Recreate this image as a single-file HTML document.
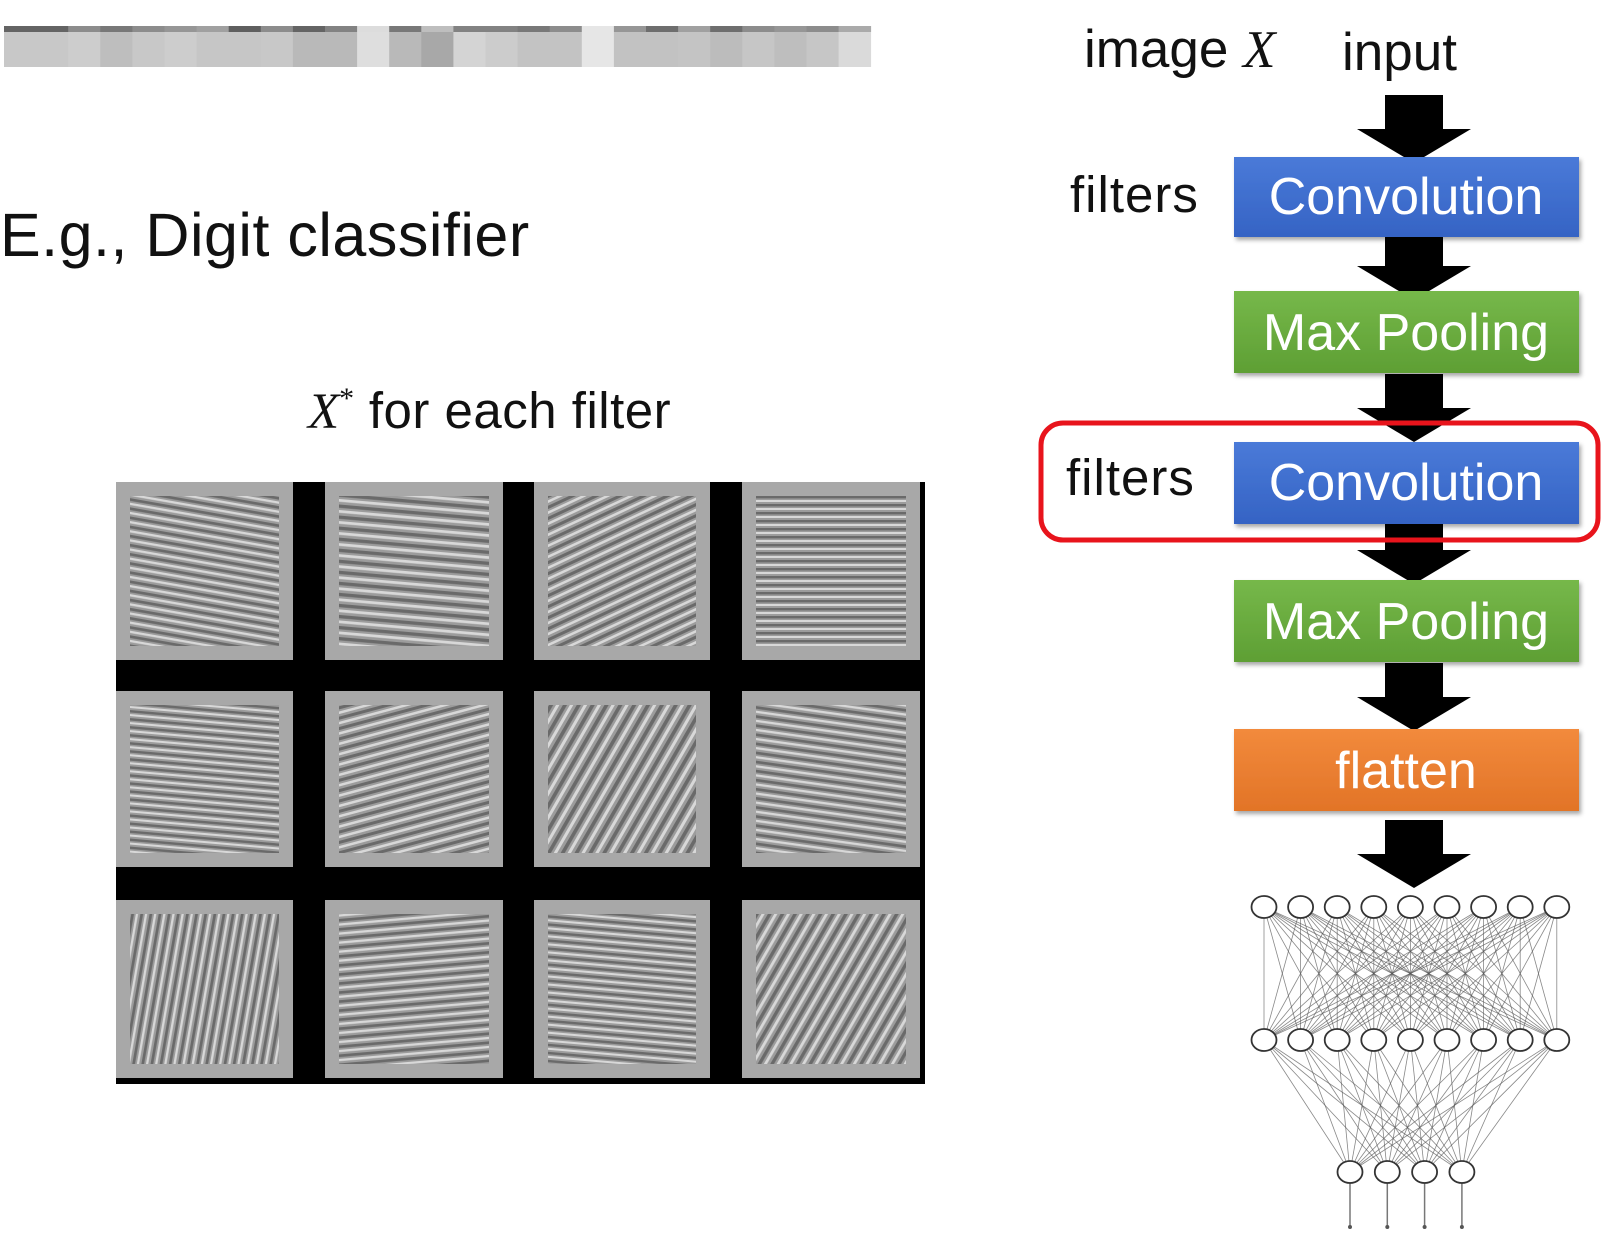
<!DOCTYPE html>
<html><head><meta charset="utf-8"><style>
html,body{margin:0;padding:0;background:#fff;width:1618px;height:1250px;overflow:hidden}
svg{display:block}
text{font-family:"Liberation Sans","DejaVu Sans",sans-serif}
</style></head><body>
<svg id="s" width="1618" height="1250" viewBox="0 0 1618 1250">
<defs>
<linearGradient id="gb" x1="0" y1="0" x2="0" y2="1"><stop offset="0" stop-color="#4a7ad8"/><stop offset="1" stop-color="#3563c4"/></linearGradient>
<linearGradient id="gg" x1="0" y1="0" x2="0" y2="1"><stop offset="0" stop-color="#76b84a"/><stop offset="1" stop-color="#5e9f34"/></linearGradient>
<linearGradient id="go" x1="0" y1="0" x2="0" y2="1"><stop offset="0" stop-color="#f28a3c"/><stop offset="1" stop-color="#e27427"/></linearGradient>
<filter id="sh"><feDropShadow dx="2" dy="3" stdDeviation="2" flood-opacity="0.35"/></filter>
</defs>
<g id="topbar"></g>
<text x="0" y="256" font-size="61" fill="#111" letter-spacing="0.5">E.g., Digit classifier</text>
<text x="308" y="428" font-size="51" fill="#111"><tspan font-family="Liberation Serif" font-style="italic">X</tspan><tspan font-size="30" dy="-20" font-family="Liberation Serif">*</tspan><tspan dy="20" letter-spacing="0.5"> for each filter</tspan></text>
<rect x="116" y="482" width="809" height="602" fill="#000"/>
<g id="cells"></g>
<text x="1084" y="67" font-size="53" fill="#111">image <tspan font-family="Liberation Serif" font-style="italic">X</tspan></text>
<text x="1342" y="70" font-size="53" fill="#111">input</text>
<g id="arrows"></g>
<text x="1070" y="212" font-size="51" fill="#111" letter-spacing="1">filters</text>
<rect x="1234" y="157" width="345" height="80" fill="url(#gb)" filter="url(#sh)"/>
<text x="1406" y="214" font-size="52" fill="#fff" text-anchor="middle">Convolution</text>
<rect x="1234" y="291" width="345" height="82" fill="url(#gg)" filter="url(#sh)"/>
<text x="1406" y="350" font-size="52" fill="#fff" text-anchor="middle">Max Pooling</text>
<rect x="1234" y="442" width="345" height="82" fill="url(#gb)" filter="url(#sh)"/>
<text x="1406" y="500" font-size="52" fill="#fff" text-anchor="middle">Convolution</text>
<text x="1066" y="495" font-size="51" fill="#111" letter-spacing="1">filters</text>
<rect x="1041" y="423" width="557" height="117" rx="22" fill="none" stroke="#e8141c" stroke-width="5"/>
<rect x="1234" y="580" width="345" height="82" fill="url(#gg)" filter="url(#sh)"/>
<text x="1406" y="639" font-size="52" fill="#fff" text-anchor="middle">Max Pooling</text>
<rect x="1234" y="729" width="345" height="82" fill="url(#go)" filter="url(#sh)"/>
<text x="1406" y="788" font-size="52" fill="#fff" text-anchor="middle">flatten</text>
<g id="net"></g>
</svg>
<script>
const NS="http://www.w3.org/2000/svg";
function mk(t,a,p){const e=document.createElementNS(NS,t);for(const k in a)e.setAttribute(k,a[k]);p.appendChild(e);return e;}
const stripGrays=[200,200,205,190,200,205,198,198,200,185,185,222,185,168,212,204,195,195,230,194,194,196,188,198,190,198,218];
const stripTop=[100,100,140,120,140,150,160,95,140,100,130,220,120,190,130,130,120,140,230,150,110,160,110,140,150,140,170];
const tb=document.getElementById('topbar');
stripGrays.forEach((g,i)=>{const x=4+i*32.1;
 const r=mk('rect',{x:x,y:32,width:32.5,height:35,fill:`rgb(${g},${g},${g})`},tb);
 
 
 const t=stripTop[i];mk('rect',{x:x,y:26,width:32.5,height:6,fill:`rgb(${t},${t},${t})`},tb);});
const colsX=[116,325,534,742],rowsY=[482,691,900],cw=[177,178,176,178],ch=[178,176,178];
const angles=[[10,5,-25,0],[5,-15,-60,8],[-80,-5,5,-60]];
const periods=[9,11,10,8, 8,10,12,9, 9,9,8,11];
const cg=document.getElementById('cells');
const defsEl=document.querySelector('defs');
let idx=0;
rowsY.forEach((y,r)=>colsX.forEach((x,c)=>{
 const id='p'+idx;const pp=periods[idx];
 const pat=mk('pattern',{id:id,width:pp,height:pp,patternUnits:'userSpaceOnUse',patternTransform:`rotate(${angles[r][c]})`},defsEl);
 mk('rect',{width:pp,height:pp,fill:'#9c9c9c'},pat);
 mk('rect',{width:pp,height:pp*0.3,fill:'#6a6a6a'},pat);
 mk('rect',{y:pp*0.5,width:pp,height:pp*0.25,fill:'#d8d8d8'},pat);
 const b=mk('rect',{x:x,y:y,width:cw[c],height:ch[r],fill:'#a8a8a8'},cg);
 
 
 mk('rect',{x:x+14,y:y+14,width:cw[c]-28,height:ch[r]-28,fill:`url(#${id})`},cg);
 idx++;}));
const arrowTops=[95,232,374,516,663,820];
const ag=document.getElementById('arrows');
arrowTops.forEach(t=>{const p=mk('path',{d:`M1385 ${t} H1443 V${t+34} H1471 L1414 ${t+68} L1357 ${t+34} H1385 Z`,fill:'#000'},ag);
 
 });
const net=document.getElementById('net');
const layerA=[],layerB=[],layerC=[];
for(let i=0;i<9;i++){layerA.push([1264+i*36.6,907]);layerB.push([1264+i*36.6,1040]);}
for(let i=0;i<4;i++)layerC.push([1350+i*37.3,1172]);
layerA.forEach(a=>layerB.forEach(b=>mk('line',{x1:a[0],y1:a[1],x2:b[0],y2:b[1],stroke:'#555','stroke-width':0.8,'stroke-opacity':0.7},net)));
layerB.forEach(a=>layerC.forEach(b=>mk('line',{x1:a[0],y1:a[1],x2:b[0],y2:b[1],stroke:'#555','stroke-width':0.8,'stroke-opacity':0.7},net)));
layerC.forEach(b=>{mk('line',{x1:b[0],y1:b[1],x2:b[0],y2:1227,stroke:'#777','stroke-width':1.5},net);mk('circle',{cx:b[0],cy:1227,r:2,fill:'#555'},net);});
[...layerA,...layerB,...layerC].forEach(p=>{const c=mk('ellipse',{cx:p[0],cy:p[1],rx:12.5,ry:11,fill:'#fff',stroke:'#333','stroke-width':1.8},net);
 
 });
</script>
</body></html>
